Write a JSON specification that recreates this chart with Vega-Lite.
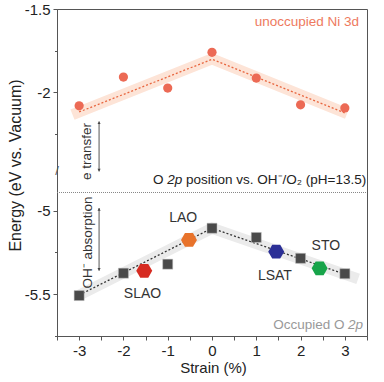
{
  "$schema": "https://vega.github.io/schema/vega-lite/v6.json",
  "width": 310,
  "height": 327,
  "autosize": {"type": "none"},
  "padding": {"left": 57, "top": 9, "right": 17, "bottom": 46},
  "background": "white",
  "config": {
    "view": {"stroke": "#555", "strokeWidth": 1},
    "font": "Liberation Sans",
    "axis": {"grid": false, "domainColor": "#555", "tickColor": "#555", "labelColor": "#222", "titleColor": "#222", "labelFont": "Liberation Sans", "titleFont": "Liberation Sans", "titleFontWeight": "normal", "labelFontSize": 15}
  },
  "datasets": {
    "topPts": [
      {"s": -3, "e": -2.083}, {"s": -2, "e": -1.91}, {"s": -1, "e": -1.976}, {"s": 0, "e": -1.761},
      {"s": 1, "e": -1.916}, {"s": 2, "e": -2.077}, {"s": 3, "e": -2.096}
    ],
    "botPts": [
      {"s": -3, "e": -5.508}, {"s": -2, "e": -5.374}, {"s": -1, "e": -5.32}, {"s": 0, "e": -5.105},
      {"s": 1, "e": -5.16}, {"s": 2, "e": -5.285}, {"s": 3, "e": -5.377}
    ],
    "hexSLAO": [{"s": -1.53, "e": -5.36}],
    "hexLAO": [{"s": -0.52, "e": -5.175}],
    "hexLSAT": [{"s": 1.45, "e": -5.245}],
    "hexSTO": [{"s": 2.43, "e": -5.345}],
    "hexLabels": [
      {"s": -0.65, "e": -5.044, "name": "LAO"},
      {"s": -1.57, "e": -5.5, "name": "SLAO"},
      {"s": 1.42, "e": -5.389, "name": "LSAT"},
      {"s": 2.57, "e": -5.21, "name": "STO"}
    ],
    "bandTop": [{"s": -3.15, "e": -2.136}, {"s": 0, "e": -1.8}, {"s": 3.05, "e": -2.13}],
    "bandBot": [{"s": -3.0, "e": -5.505}, {"s": 0, "e": -5.105}, {"s": 3.3, "e": -5.408}],
    "fitTop": [{"s": -3, "e": -2.12}, {"s": 0, "e": -1.803}, {"s": 3, "e": -2.126}],
    "fitBot": [{"s": -3, "e": -5.505}, {"s": 0, "e": -5.105}, {"s": 3, "e": -5.38}],
    "sep": [{"s": -3.5, "s2": 3.5, "e": -4.891}],
    "arrows": [
      {"s": -2.55, "e": -2.177, "e2": -2.478},
      {"s": -2.55, "e": -4.984, "e2": -5.359}
    ],
    "arrowUp": [{"s": -2.55, "e": -2.185}, {"s": -2.55, "e": -4.992}],
    "arrowDown": [{"s": -2.55, "e": -2.47}, {"s": -2.55, "e": -5.351}],
    "vlabels": [
      {"s": -2.82, "e": -2.358, "t": "e transfer"},
      {"s": -2.8, "e": -5.19, "t": "OH⁻ absorption"}
    ],
    "brk": [{"s": -3.5, "e": -2.475, "t": "/"}],
    "unocc": [{"s": 3.32, "e": -1.577, "t": "unoccupied Ni 3d"}],
    "midA": [{"s": -1.33, "e": -2.53, "t": "O"}, {"s": -0.587, "e": -2.53, "t": "position vs. OH⁻/O₂ (pH=13.5)"}],
    "midB": [{"s": -1.01, "e": -2.53, "t": "2p"}],
    "occA": [{"s": 2.995, "e": -5.684, "t": "Occupied O"}],
    "occB": [{"s": 3.41, "e": -5.684, "t": "2p"}]
  },
  "encoding": {
    "x": {
      "field": "s", "type": "quantitative",
      "scale": {"domain": [-3.5, 3.5], "nice": false, "zero": false},
      "axis": {
        "title": "Strain (%)", "titleFontSize": 15, "titleX": 156, "titleY": 36, "titleBaseline": "alphabetic",
        "values": [-3.5, -3, -2.5, -2, -1.5, -1, -0.5, 0, 0.5, 1, 1.5, 2, 2.5, 3, 3.5],
        "labelExpr": "datum.value % 1 == 0 ? '' + datum.value : ''",
        "tickSize": 4, "labelPadding": 3, "labelFlush": false, "labelOverlap": false
      }
    },
    "y": {
      "field": "e", "type": "quantitative",
      "scale": {"domain": [-5.75, -4.891, -2.605, -1.5], "range": [327, 183.5, 183.5, 0], "nice": false, "zero": false},
      "axis": {
        "title": "Energy (eV vs. Vacuum)", "titleFontSize": 16, "titleX": -37, "titleY": 156, "titleBaseline": "alphabetic", "titleAngle": 270,
        "values": [-5.75, -5.5, -5.25, -5, -2.25, -2, -1.75, -1.5],
        "labelExpr": "(datum.value * 2) % 1 == 0 ? '' + datum.value : ''",
        "tickSize": {"condition": {"test": "(datum.value * 2) % 1 != 0", "value": 2.5}, "value": 4},
        "labelPadding": 3, "labelOverlap": false, "labelFlush": false
      }
    }
  },
  "layer": [
    {"data": {"name": "bandTop"}, "mark": {"type": "line", "strokeWidth": 11, "strokeCap": "butt", "strokeJoin": "miter", "color": "#fde4d7"}},
    {"data": {"name": "bandBot"}, "mark": {"type": "line", "strokeWidth": 11, "strokeCap": "butt", "strokeJoin": "miter", "color": "#ebebeb"}},
    {"data": {"name": "sep"}, "mark": {"type": "rule", "color": "#888", "strokeDash": [1, 1], "strokeWidth": 1},
     "encoding": {"x2": {"field": "s2"}}},
    {"data": {"name": "fitTop"}, "mark": {"type": "line", "strokeWidth": 1.3, "strokeDash": [2, 2], "color": "#e8663f"}},
    {"data": {"name": "fitBot"}, "mark": {"type": "line", "strokeWidth": 1.3, "strokeDash": [2, 2], "color": "#333333"}},
    {"data": {"name": "topPts"}, "mark": {"type": "point", "filled": true, "shape": "circle", "size": 85, "color": "#ec6a55", "opacity": 1}},
    {"data": {"name": "botPts"}, "mark": {"type": "point", "filled": true, "shape": "square", "size": 100, "color": "#4a4a4a", "opacity": 1, "stroke": "#bdbdbd", "strokeWidth": 0.5}},
    {"data": {"name": "hexSLAO"}, "mark": {"type": "point", "filled": true, "shape": "M-1,0L-0.5,-0.866L0.5,-0.866L1,0L0.5,0.866L-0.5,0.866Z", "size": 256, "opacity": 1, "color": "#d62b21"}},
    {"data": {"name": "hexLAO"}, "mark": {"type": "point", "filled": true, "shape": "M-1,0L-0.5,-0.866L0.5,-0.866L1,0L0.5,0.866L-0.5,0.866Z", "size": 256, "opacity": 1, "color": "#e8732b"}},
    {"data": {"name": "hexLSAT"}, "mark": {"type": "point", "filled": true, "shape": "M-1,0L-0.5,-0.866L0.5,-0.866L1,0L0.5,0.866L-0.5,0.866Z", "size": 256, "opacity": 1, "color": "#2b2f96"}},
    {"data": {"name": "hexSTO"}, "mark": {"type": "point", "filled": true, "shape": "M-1,0L-0.5,-0.866L0.5,-0.866L1,0L0.5,0.866L-0.5,0.866Z", "size": 256, "opacity": 1, "color": "#17a44a"}},
    {"data": {"name": "hexLabels"}, "mark": {"type": "text", "fontSize": 14, "color": "#333", "align": "center", "baseline": "middle"},
     "encoding": {"text": {"field": "name"}}},
    {"data": {"name": "arrows"}, "mark": {"type": "rule", "color": "#555", "strokeWidth": 1},
     "encoding": {"y2": {"field": "e2"}}},
    {"data": {"name": "arrowUp"}, "mark": {"type": "point", "shape": "triangle-up", "filled": true, "size": 10, "color": "#444", "opacity": 1}},
    {"data": {"name": "arrowDown"}, "mark": {"type": "point", "shape": "triangle-down", "filled": true, "size": 10, "color": "#444", "opacity": 1}},
    {"data": {"name": "vlabels"}, "mark": {"type": "text", "fontSize": 13.5, "color": "#333", "angle": 270, "align": "center", "baseline": "middle"},
     "encoding": {"text": {"field": "t"}}},
    {"data": {"name": "brk"}, "mark": {"type": "text", "fontSize": 13, "color": "#555", "align": "center", "baseline": "middle"},
     "encoding": {"text": {"field": "t"}}},
    {"data": {"name": "unocc"}, "mark": {"type": "text", "fontSize": 13.5, "color": "#ee7a5e", "align": "right", "baseline": "middle"},
     "encoding": {"text": {"field": "t"}}},
    {"data": {"name": "midA"}, "mark": {"type": "text", "fontSize": 13.5, "color": "#222", "align": "left", "baseline": "middle"},
     "encoding": {"text": {"field": "t"}}},
    {"data": {"name": "midB"}, "mark": {"type": "text", "fontSize": 13.5, "color": "#222", "align": "left", "baseline": "middle", "fontStyle": "italic"},
     "encoding": {"text": {"field": "t"}}},
    {"data": {"name": "occA"}, "mark": {"type": "text", "fontSize": 13.5, "color": "#999", "align": "right", "baseline": "middle"},
     "encoding": {"text": {"field": "t"}}},
    {"data": {"name": "occB"}, "mark": {"type": "text", "fontSize": 13.5, "color": "#999", "align": "right", "baseline": "middle", "fontStyle": "italic"},
     "encoding": {"text": {"field": "t"}}}
  ]
}
